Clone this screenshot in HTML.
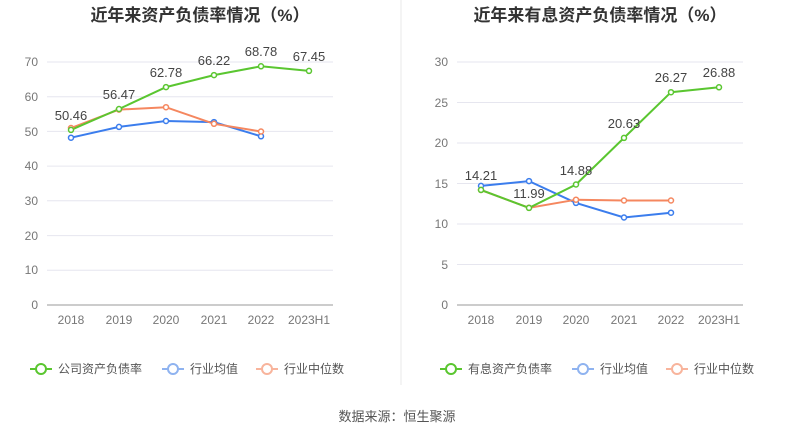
<!DOCTYPE html>
<html><head><meta charset="utf-8"><style>
body{margin:0;background:#fff;}
svg text{font-family:"Liberation Sans","Noto Sans CJK SC",sans-serif;}
</style></head><body>
<svg width="795" height="439" viewBox="0 0 795 439" xmlns="http://www.w3.org/2000/svg">
<rect width="795" height="439" fill="#fff"/>
<line x1="401" y1="0" x2="401" y2="385" stroke="#e8e8e8"/>
<text x="200" y="21" text-anchor="middle" font-size="17" font-weight="bold" fill="#333">近年来资产负债率情况（%）</text>
<text x="600" y="21" text-anchor="middle" font-size="17" font-weight="bold" fill="#333">近年来有息资产负债率情况（%）</text>
<g stroke="#e6e6ef" stroke-width="1">
<line x1="47" x2="333" y1="62" y2="62"/><line x1="47" x2="333" y1="96.7" y2="96.7"/><line x1="47" x2="333" y1="131.4" y2="131.4"/><line x1="47" x2="333" y1="166.1" y2="166.1"/><line x1="47" x2="333" y1="200.8" y2="200.8"/><line x1="47" x2="333" y1="235.6" y2="235.6"/><line x1="47" x2="333" y1="270.3" y2="270.3"/>
<line x1="457" x2="743" y1="62" y2="62"/><line x1="457" x2="743" y1="102.5" y2="102.5"/><line x1="457" x2="743" y1="143" y2="143"/><line x1="457" x2="743" y1="183.5" y2="183.5"/><line x1="457" x2="743" y1="224" y2="224"/><line x1="457" x2="743" y1="264.5" y2="264.5"/>
</g>
<line x1="47" x2="333" y1="305" y2="305" stroke="#999"/>
<line x1="457" x2="743" y1="305" y2="305" stroke="#999"/>
<g font-size="12" fill="#777" text-anchor="end">
<text x="38" y="66">70</text><text x="38" y="101">60</text><text x="38" y="136">50</text><text x="38" y="170">40</text><text x="38" y="205">30</text><text x="38" y="240">20</text><text x="38" y="274">10</text><text x="38" y="309">0</text>
<text x="448" y="66">30</text><text x="448" y="107">25</text><text x="448" y="147">20</text><text x="448" y="188">15</text><text x="448" y="228">10</text><text x="448" y="269">5</text><text x="448" y="309">0</text>
</g>
<g font-size="12" fill="#777" text-anchor="middle">
<text x="71" y="324">2018</text><text x="119" y="324">2019</text><text x="166" y="324">2020</text><text x="214" y="324">2021</text><text x="261" y="324">2022</text><text x="309" y="324">2023H1</text>
<text x="481" y="324">2018</text><text x="529" y="324">2019</text><text x="576" y="324">2020</text><text x="624" y="324">2021</text><text x="671" y="324">2022</text><text x="719" y="324">2023H1</text>
</g>
<g fill="#fff" stroke-width="1.5">
<polyline fill="none" stroke="#3b7ded" stroke-width="2" points="71,137.7 119,126.9 166,121 214,122.1 261,136.3"/>
<polyline fill="none" stroke="#f5875f" stroke-width="2" points="71,128 119,109.6 166,107.2 214,123.8 261,131.5"/>
<polyline fill="none" stroke="#5ac630" stroke-width="2" points="71,129.9 119,109 166,87.1 214,75.1 261,66.3 309,70.9"/>
<g stroke="#3b7ded"><circle cx="71" cy="137.7" r="2.5"/><circle cx="119" cy="126.9" r="2.5"/><circle cx="166" cy="121" r="2.5"/><circle cx="214" cy="122.1" r="2.5"/><circle cx="261" cy="136.3" r="2.5"/></g>
<g stroke="#f5875f"><circle cx="71" cy="128" r="2.5"/><circle cx="119" cy="109.6" r="2.5"/><circle cx="166" cy="107.2" r="2.5"/><circle cx="214" cy="123.8" r="2.5"/><circle cx="261" cy="131.5" r="2.5"/></g>
<g stroke="#5ac630"><circle cx="71" cy="129.9" r="2.5"/><circle cx="119" cy="109" r="2.5"/><circle cx="166" cy="87.1" r="2.5"/><circle cx="214" cy="75.1" r="2.5"/><circle cx="261" cy="66.3" r="2.5"/><circle cx="309" cy="70.9" r="2.5"/></g>
<polyline fill="none" stroke="#3b7ded" stroke-width="2" points="481,185.9 529,181.1 576,202.9 624,217.5 671,212.7"/>
<polyline fill="none" stroke="#f5875f" stroke-width="2" points="481,190 529,207.8 576,199.7 624,200.5 671,200.5"/>
<polyline fill="none" stroke="#5ac630" stroke-width="2" points="481,189.9 529,207.9 576,184.5 624,137.9 671,92.2 719,87.3"/>
<g stroke="#3b7ded"><circle cx="481" cy="185.9" r="2.5"/><circle cx="529" cy="181.1" r="2.5"/><circle cx="576" cy="202.9" r="2.5"/><circle cx="624" cy="217.5" r="2.5"/><circle cx="671" cy="212.7" r="2.5"/></g>
<g stroke="#f5875f"><circle cx="481" cy="190" r="2.5"/><circle cx="529" cy="207.8" r="2.5"/><circle cx="576" cy="199.7" r="2.5"/><circle cx="624" cy="200.5" r="2.5"/><circle cx="671" cy="200.5" r="2.5"/></g>
<g stroke="#5ac630"><circle cx="481" cy="189.9" r="2.5"/><circle cx="529" cy="207.9" r="2.5"/><circle cx="576" cy="184.5" r="2.5"/><circle cx="624" cy="137.9" r="2.5"/><circle cx="671" cy="92.2" r="2.5"/><circle cx="719" cy="87.3" r="2.5"/></g>
</g>
<g font-size="13" fill="#444" text-anchor="middle">
<text x="71" y="120">50.46</text><text x="119" y="99">56.47</text><text x="166" y="77">62.78</text><text x="214" y="65">66.22</text><text x="261" y="56">68.78</text><text x="309" y="61">67.45</text>
<text x="481" y="180">14.21</text><text x="529" y="198">11.99</text><text x="576" y="175">14.88</text><text x="624" y="128">20.63</text><text x="671" y="82">26.27</text><text x="719" y="77">26.88</text>
</g>
<g font-size="12" fill="#555">
<line x1="30" x2="52" y1="369" y2="369" stroke="#5ac630" stroke-width="2"/><circle cx="41" cy="369" r="5" fill="#fff" stroke="#5ac630" stroke-width="2"/><text x="58" y="373">公司资产负债率</text>
<line x1="162" x2="184" y1="369" y2="369" stroke="#8fb3f0" stroke-width="2"/><circle cx="173" cy="369" r="5" fill="#fff" stroke="#8fb3f0" stroke-width="2"/><text x="190" y="373">行业均值</text>
<line x1="256" x2="278" y1="369" y2="369" stroke="#f8b49c" stroke-width="2"/><circle cx="267" cy="369" r="5" fill="#fff" stroke="#f8b49c" stroke-width="2"/><text x="284" y="373">行业中位数</text>
<line x1="440" x2="462" y1="369" y2="369" stroke="#5ac630" stroke-width="2"/><circle cx="451" cy="369" r="5" fill="#fff" stroke="#5ac630" stroke-width="2"/><text x="468" y="373">有息资产负债率</text>
<line x1="572" x2="594" y1="369" y2="369" stroke="#8fb3f0" stroke-width="2"/><circle cx="583" cy="369" r="5" fill="#fff" stroke="#8fb3f0" stroke-width="2"/><text x="600" y="373">行业均值</text>
<line x1="666" x2="688" y1="369" y2="369" stroke="#f8b49c" stroke-width="2"/><circle cx="677" cy="369" r="5" fill="#fff" stroke="#f8b49c" stroke-width="2"/><text x="694" y="373">行业中位数</text>
</g>
<text x="397" y="421" text-anchor="middle" font-size="13" fill="#555">数据来源：恒生聚源</text>
</svg>
</body></html>
